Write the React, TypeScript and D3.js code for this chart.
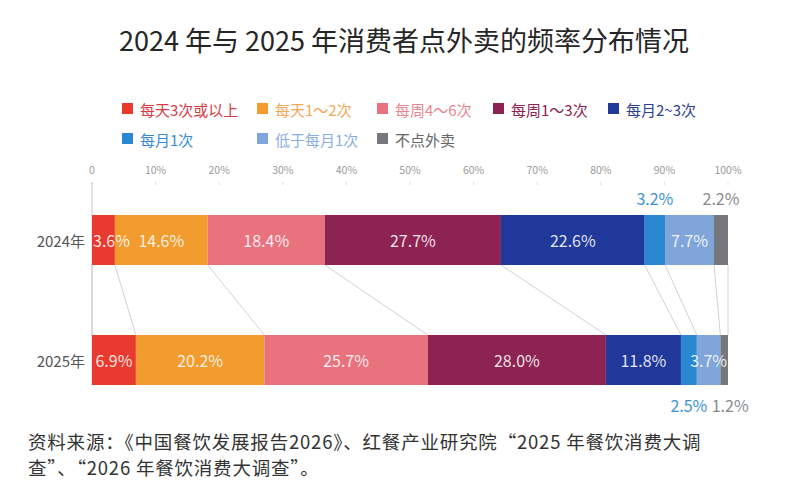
import React from 'react';
import * as d3 from 'd3';

// categories / series
const categories = ['每天3次或以上', '每天1～2次', '每周4～6次', '每周1～3次', '每月2~3次', '每月1次', '低于每月1次', '不点外卖'];
const years = ['2024年', '2025年'];
const values2024 = [3.6, 14.6, 18.4, 27.7, 22.6, 3.2, 7.7, 2.2];
const values2025 = [6.9, 20.2, 25.7, 28.0, 11.8, 2.5, 3.7, 1.2];
const tickValues = [0, 10, 20, 30, 40, 50, 60, 70, 80, 90, 100];

const colors = ['#e83a2e', '#f29b2e', '#e8737f', '#8d2352', '#1f389a', '#2a88d2', '#7fa5da', '#77787c'];
const legendTextColors = ['#d93a45', '#f3a857', '#e98791', '#8d2352', '#2b3f93', '#3a8ad3', '#8aaedf', '#666666'];
const outsideColors = ['#d93a45', '#f3a857', '#e98791', '#8d2352', '#2b3f93', '#3d92d8', '#8aaedf', '#8a8a8e'];

const FONT = '"Noto Sans CJK SC", "Noto Sans", sans-serif';

const App: React.FC = () => {
  const width = 800;
  const height = 494;
  const barH = 50;

  const x = d3.scaleLinear().domain([0, 100]).range([92, 728]);
  const y = d3.scalePoint<string>().domain(years).range([240, 360]);

  const rows = [values2024, values2025].map((vals, i) => {
    const cum = d3.cumsum(vals);
    return vals.map((v, j) => ({ year: years[i], v, j, x0: j === 0 ? 0 : cum[j - 1], x1: cum[j] }));
  });

  const bounds = [values2024, values2025].map(vals => [0, ...Array.from(d3.cumsum(vals))]);

  // legend layout
  const legendRows = [
    { y: 109, items: [0, 1, 2, 3, 4], xs: [122, 257, 377, 493, 608] },
    { y: 139, items: [5, 6, 7], xs: [122, 257, 377] },
  ];

  return (
    <svg width={width} height={height} style={{ position: 'absolute', left: 0, top: 0, background: '#fff' }} fontFamily={FONT}>
      <rect width={width} height={height} fill="#fff" />
      <text x={404} y={51} textAnchor="middle" fontSize={27} fontWeight={400} fill="#262626">
        2024 年与 2025 年消费者点外卖的频率分布情况
      </text>

      {/* legend */}
      {legendRows.map((r, ri) => (
        <g key={ri}>
          {r.items.map((ci, k) => (
            <g key={ci}>
              <rect x={r.xs[k]} y={r.y - 6} width={11} height={11} fill={colors[ci]} />
              <text x={r.xs[k] + 18} y={r.y} dominantBaseline="central" fontSize={15} fill={legendTextColors[ci]}>
                {categories[ci]}
              </text>
            </g>
          ))}
        </g>
      ))}

      {/* axis */}
      {tickValues.map(t => (
        <g key={t}>
          <text x={x(t)} y={174} textAnchor="middle" fontSize={10.5} fill="#9a9a9a">
            {t === 0 ? '0' : `${t}%`}
          </text>
          <line x1={x(t)} x2={x(t)} y1={182} y2={185} stroke="#dddddd" strokeWidth={1} />
        </g>
      ))}
      <line x1={x(0)} x2={x(0)} y1={182} y2={y('2025年')! + barH / 2} stroke="#c9c9cc" strokeWidth={1} />

      {/* connectors */}
      {bounds[0].map((b, k) => (
        <line
          key={k}
          x1={x(b)}
          y1={y('2024年')! + barH / 2}
          x2={x(bounds[1][k])}
          y2={y('2025年')! - barH / 2}
          stroke="#c6c6cb"
          strokeWidth={0.8}
        />
      ))}

      {/* bars */}
      {rows.map((row, i) => (
        <g key={i}>
          <text x={85} y={y(years[i])!} textAnchor="end" dominantBaseline="central" fontSize={15} fill="#555">
            {years[i]}
          </text>
          {row.map(d => (
            <rect
              key={d.j}
              x={x(d.x0)}
              y={y(d.year)! - barH / 2}
              width={x(d.x1) - x(d.x0)}
              height={barH}
              fill={colors[d.j]}
            />
          ))}
          {row.map(d => {
            const cx = (x(d.x0) + x(d.x1)) / 2;
            const segW = x(d.x1) - x(d.x0);
            const label = `${d.v.toFixed(1)}%`;
            if (d.v >= 3.5) {
              const startAligned = d.j === 0 && segW < 36;
              return (
                <text
                  key={d.j}
                  x={startAligned ? x(d.x0) + 1 : cx}
                  y={y(d.year)!}
                  textAnchor={startAligned ? 'start' : 'middle'}
                  dominantBaseline="central"
                  fontSize={16}
                  fill="rgba(255,255,255,0.88)"
                >
                  {label}
                </text>
              );
            }
            const above = i === 0;
            const dx = !above && d.j === row.length - 1 ? 6 : 0;
            return (
              <text
                key={d.j}
                x={cx + dx}
                y={above ? y(d.year)! - barH / 2 - 17 : y(d.year)! + barH / 2 + 20}
                textAnchor="middle"
                dominantBaseline="central"
                fontSize={16}
                fill={outsideColors[d.j]}
              >
                {label}
              </text>
            );
          })}
        </g>
      ))}

      {/* source */}
      <text x={28} y={449} fontSize={18.5} letterSpacing={0.8} fill="#333">
        资料来源：《中国餐饮发展报告2026》、红餐产业研究院“2025 年餐饮消费大调
      </text>
      <text x={28} y={475} fontSize={18.5} letterSpacing={0.8} fill="#333">
        查”、“2026 年餐饮消费大调查”。
      </text>
    </svg>
  );
};

export default App;
